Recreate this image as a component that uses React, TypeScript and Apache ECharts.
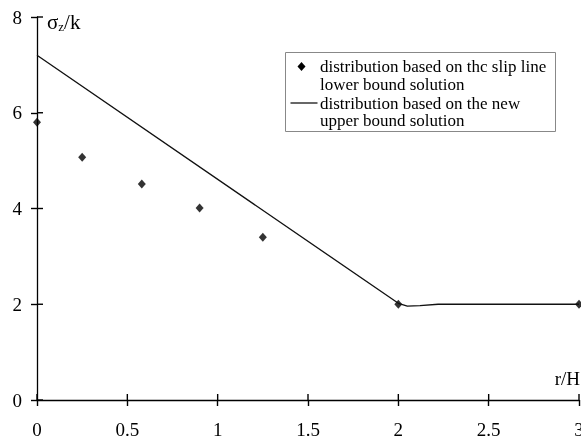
import React, { useEffect, useRef } from "react";
import * as echarts from "echarts";

// ---- data ----
const lowerBoundX = [0, 0.25, 0.58, 0.9, 1.25, 2, 3];
const lowerBoundY = [5.8, 5.07, 4.51, 4.01, 3.4, 2.0, 2.0];
const upperBoundX = [0, 2.0, 2.05, 2.12, 2.22, 3];
const upperBoundY = [7.2, 2.02, 1.96, 1.97, 2.0, 2.0];
const seriesNames = [
  "distribution based on thc slip line\nlower bound solution",
  "distribution based on the new\nupper bound solution",
];
const legendLines = [
  "distribution based on thc slip line",
  "lower bound solution",
  "distribution based on the new",
  "upper bound solution",
];
const xTickValues = [0, 0.5, 1, 1.5, 2, 2.5, 3];
const yTickValues = [0, 2, 4, 6, 8];
const xTicks = { min: 0, max: 3, interval: 0.5 };
const yTicks = { min: 0, max: 8, interval: 2 };

const FONT = "'Liberation Serif', 'Times New Roman', serif";

export default function App() {
  const ref = useRef<HTMLDivElement>(null);
  useEffect(() => {
    if (!ref.current) return;
    const chart = echarts.init(ref.current, null, { renderer: "svg" });
    const HALF = 6;
    // inward half of each crossing tick (the outward half is the axis's own tick)
    const tickMark = (horizontalAxis: boolean) => (params: any, api: any) => {
      const p = api.coord([api.value(0), api.value(1)]);
      const shape = horizontalAxis
        ? { x1: p[0], y1: p[1] - HALF, x2: p[0], y2: p[1] }
        : { x1: p[0], y1: p[1], x2: p[0] + HALF, y2: p[1] };
      return {
        type: "line",
        shape,
        style: { stroke: "#000", lineWidth: 1.4 },
      };
    };
    chart.setOption({
      animation: false,
      grid: { left: 37, right: 2, top: 17, bottom: 41, outerBoundsMode: "none" },
      xAxis: {
        type: "value",
        ...xTicks,
        axisLine: { show: true, lineStyle: { color: "#000", width: 1.3 } },
        axisTick: { show: true, length: HALF, lineStyle: { color: "#000", width: 1.4 } },
        splitLine: { show: false },
        axisLabel: {
          margin: 20,
          color: "#000",
          fontFamily: FONT,
          fontSize: 19,
        },
      },
      yAxis: {
        type: "value",
        ...yTicks,
        axisLine: { show: true, lineStyle: { color: "#000", width: 1.3 } },
        axisTick: { show: true, length: HALF, lineStyle: { color: "#000", width: 1.4 } },
        splitLine: { show: false },
        axisLabel: {
          margin: 15,
          color: "#000",
          fontFamily: FONT,
          fontSize: 19,
        },
      },
      series: [
        {
          name: "x ticks",
          type: "custom",
          data: xTickValues.map((v) => [v, 0]),
          renderItem: tickMark(true),
          clip: false,
          silent: true,
        },
        {
          name: "y ticks",
          type: "custom",
          data: yTickValues.map((v) => [0, v]),
          renderItem: tickMark(false),
          clip: false,
          silent: true,
        },
        {
          name: seriesNames[1],
          type: "line",
          data: upperBoundX.map((x, i) => [x, upperBoundY[i]]),
          showSymbol: false,
          symbol: "none",
          lineStyle: { color: "#111", width: 1.3 },
          clip: false,
        },
        {
          name: seriesNames[0],
          type: "scatter",
          data: lowerBoundX.map((x, i) => [x, lowerBoundY[i]]),
          symbol: "diamond",
          symbolSize: [8, 9],
          itemStyle: { color: "#000" },
          clip: false,
        },
      ],
      graphic: [
        {
          type: "text",
          left: 47,
          top: 8,
          style: {
            text: "{a|σ}{b|z}{a|/k}",
            fill: "#000",
            rich: {
              a: { fontFamily: FONT, fontSize: 21, lineHeight: 22, fill: "#000" },
              b: {
                fontFamily: FONT,
                fontSize: 13,
                lineHeight: 13,
                verticalAlign: "bottom",
                padding: [12, 0, 0, 0],
                fill: "#000",
              },
            },
          },
        },
        {
          type: "text",
          right: 1,
          top: 369,
          style: { text: "r/H", fontFamily: FONT, fontSize: 19, fill: "#000" },
        },
        {
          type: "group",
          left: 285,
          top: 52,
          children: [
            {
              type: "rect",
              shape: { x: 0, y: 0, width: 270, height: 79 },
              style: { fill: "#fff", stroke: "#888", lineWidth: 1 },
            },
            {
              type: "polygon",
              shape: { points: [[16, 9.5], [20, 14], [16, 18.5], [12, 14]] },
              style: { fill: "#000" },
            },
            {
              type: "line",
              shape: { x1: 5, y1: 50.5, x2: 32, y2: 50.5 },
              style: { stroke: "#000", lineWidth: 1.2 },
            },
            ...legendLines.map((t, i) => ({
              type: "text",
              x: 34.5,
              y: [14, 32.3, 50.7, 68][i],
              style: {
                text: t,
                fontFamily: FONT,
                fontSize: 17,
                fill: "#000",
                verticalAlign: "middle",
              },
            })),
          ],
        },
      ],
    });
    return () => chart.dispose();
  }, []);
  return (
    <div
      ref={ref}
      style={{ position: "fixed", left: 0, top: 0, width: 581, height: 441 }}
    />
  );
}
